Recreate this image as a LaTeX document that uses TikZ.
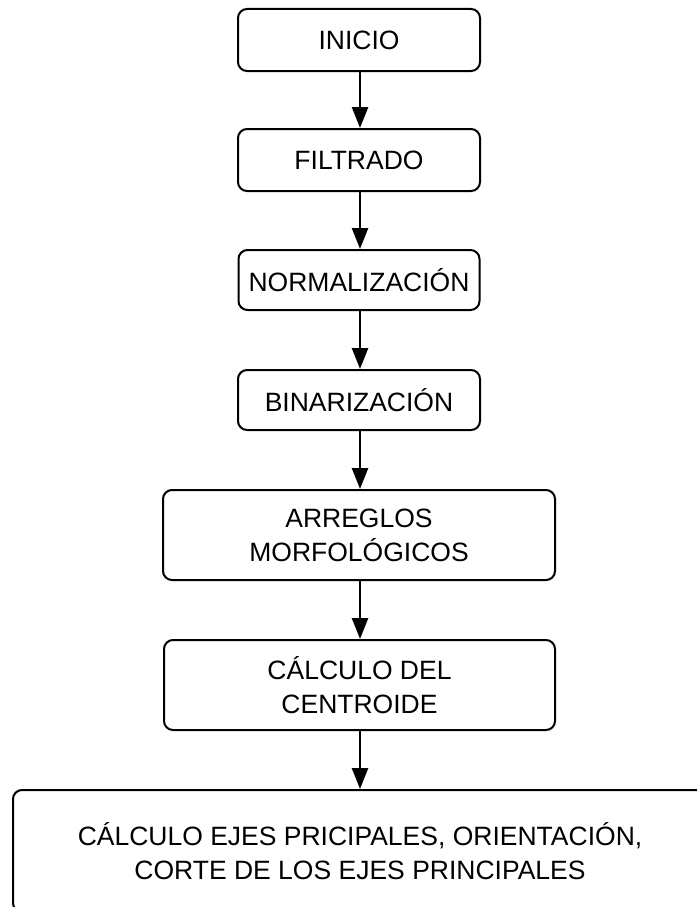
\documentclass[tikz,border=0pt]{standalone}
\usepackage{fontspec}
\setmainfont{Liberation Sans}
\usetikzlibrary{arrows.meta}
\begin{document}
\begin{tikzpicture}[x=1pt,y=-1pt,
  box/.style={draw=black, line width=2pt, rounded corners=9pt, fill=white,
    inner sep=0pt, align=center, font=\fontsize{26.5}{34}\selectfont},
  flow/.style={draw=black, line width=2.5pt, -{Triangle[length=21pt,width=16pt]}}]
\useasboundingbox (0,0) rectangle (696,907);
\fill[white] (0,0) rectangle (696,907);
\node[box, minimum width=242pt, minimum height=62pt] (inicio) at (359,40) {INICIO};
\node[box, minimum width=242pt, minimum height=62pt] (filtrado) at (359,160) {FILTRADO};
\node[box, minimum width=241pt, minimum height=60pt] (normal) at (359,280) {NORMALIZACIÓN};
\node[box, minimum width=242pt, minimum height=60pt] (binar) at (359,400) {BINARIZACIÓN};
\node[box, minimum width=392pt, minimum height=90pt] (arreglos) at (359,535) {ARREGLOS\\MORFOLÓGICOS};
\node[box, minimum width=391pt, minimum height=90pt] (centro) at (359.5,685) {CÁLCULO DEL\\CENTROIDE};
\node[box, minimum width=694pt, minimum height=122pt] (ejes) at (360,851) {CÁLCULO EJES PRICIPALES, ORIENTACIÓN,\\CORTE DE LOS EJES PRINCIPALES};
\draw[flow] (inicio.south -| 360,0) -- (filtrado.north -| 360,0);
\draw[flow] (filtrado.south -| 360,0) -- (normal.north -| 360,0);
\draw[flow] (normal.south -| 360,0) -- (binar.north -| 360,0);
\draw[flow] (binar.south -| 360,0) -- (arreglos.north -| 360,0);
\draw[flow] (arreglos.south -| 360,0) -- (centro.north -| 360,0);
\draw[flow] (centro.south -| 360,0) -- (ejes.north -| 360,0);
\end{tikzpicture}
\end{document}
